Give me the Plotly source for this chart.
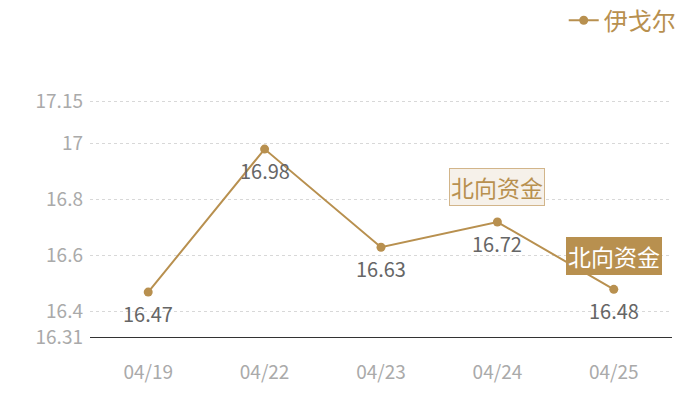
import plotly.graph_objects as go

# daily values
dates = ["04/19", "04/22", "04/23", "04/24", "04/25"]
prices = [16.47, 16.98, 16.63, 16.72, 16.48]
labels = ["16.47", "16.98", "16.63", "16.72", "16.48"]
tick_vals = [16.31, 16.4, 16.6, 16.8, 17, 17.15]
tick_text = ["16.31", "16.4", "16.6", "16.8", "17", "17.15"]

gold = "#b8904f"
cjk = "Noto Sans CJK SC"

fig = go.Figure()
fig.add_trace(go.Scatter(
    x=dates, y=prices, name="伊戈尔",
    mode="lines+markers",
    line=dict(color=gold, width=2),
    marker=dict(color=gold, size=9),
))

# value labels under each point
for d, p, t in zip(dates, prices, labels):
    fig.add_annotation(x=d, y=p, text=t, showarrow=False, yshift=-21,
                       font=dict(family=cjk, size=20, color="#666666"))

# north-bound fund flags
fig.add_annotation(x=dates[3], y=prices[3], text="北向资金", showarrow=False,
                   yshift=35, font=dict(family=cjk, size=23, color=gold),
                   bgcolor="#f6f1ea", bordercolor="#d2b58a", borderwidth=1, borderpad=1)
fig.add_annotation(x=dates[4], y=prices[4], text="北向资金", showarrow=False,
                   yshift=33, font=dict(family=cjk, size=23, color="white"),
                   bgcolor=gold, bordercolor=gold, borderwidth=1, borderpad=1)

# page body adds an 8px margin, so the figure is 8px smaller
fig.update_layout(
    width=692, height=392,
    margin=dict(l=82, r=28, t=92, b=63, autoexpand=False),
    plot_bgcolor="white", paper_bgcolor="white",
    font=dict(family=cjk),
    showlegend=True,
    legend=dict(x=1.015, y=1.335, xanchor="right", yanchor="middle",
                orientation="h", font=dict(family=cjk, size=24, color=gold),
                itemwidth=30),
    xaxis=dict(type="category", range=[-0.5, 4.5], showgrid=False, automargin=False,
               showline=True, linecolor="#333333", linewidth=1, ticks="",
               ticklabelstandoff=18,
               tickfont=dict(family=cjk, size=19, color="#aaaaaa")),
    yaxis=dict(range=[16.31, 17.155], tickvals=tick_vals, ticktext=tick_text,
               showgrid=True, gridcolor="#d8d8d8", griddash="dot", zeroline=False,
               showline=False, automargin=False,
               tickfont=dict(family=cjk, size=19, color="#aaaaaa"),
               ticklabelstandoff=6),
)

fig.write_html("out.html")
